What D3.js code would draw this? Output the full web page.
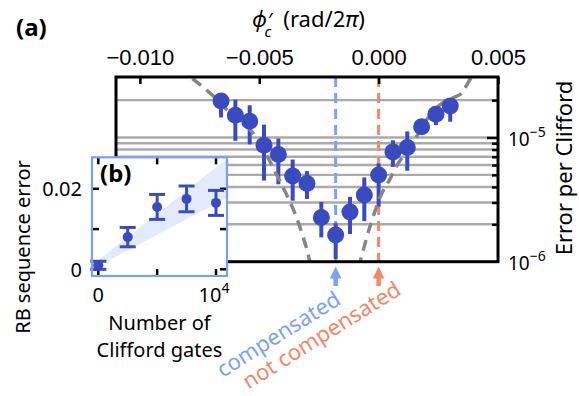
<!DOCTYPE html>
<html>
<head>
<meta charset="utf-8">
<script src="https://cdn.jsdelivr.net/npm/d3@7"></script>
<style>
  body { margin: 0; background: #fff; }
  svg { display: block; font-family: "Noto Sans", "Open Sans", sans-serif; }
</style>
</head>
<body>
<div id="chart"></div>
<script>
// (a) error per Clifford against phi_c'
const phiValues = [-0.0066, -0.006, -0.0054, -0.0048, -0.0042, -0.0036, -0.003, -0.0024, -0.0018,
  -0.0012, -0.0006, 0, 0.0006, 0.0012, 0.0018, 0.0024, 0.003];
const epcValues = [1.97e-5, 1.51e-5, 1.35e-5, 8.67e-6, 7.3e-6, 4.89e-6, 4.27e-6, 2.27e-6, 1.64e-6,
  2.51e-6, 3.44e-6, 4.98e-6, 7.66e-6, 8.31e-6, 1.22e-5, 1.54e-5, 1.79e-5];
const epcLow = [1.45e-5, 9.4e-6, 8.8e-6, 4.5e-6, 4.2e-6, 3.1e-6, 3.2e-6, 1.57e-6, 1.05e-6,
  1.67e-6, 2.12e-6, 2.77e-6, 5.8e-6, 5.4e-6, 1.08e-5, 1.26e-5, 1.34e-5];
const epcHigh = [2.26e-5, 2.02e-5, 1.82e-5, 1.27e-5, 9.8e-6, 6.65e-6, 5.36e-6, 3.03e-6, 2.04e-6,
  3.33e-6, 4.77e-6, 6.18e-6, 9.5e-6, 1.12e-5, 1.38e-5, 1.71e-5, 2.07e-5];

// dashed model curves
const leftCurvePhi = [-0.0078, -0.00696, -0.00626, -0.00556, -0.005, -0.00465, -0.00437, -0.00388, -0.00353, -0.00319, -0.0029, -0.00282];
const leftCurveEpc = [2.98e-5, 2.19e-5, 1.61e-5, 1.26e-5, 9.2e-6, 6.99e-6, 5.46e-6, 3.55e-6, 2.52e-6, 1.64e-6, 1.03e-6, 8.5e-7];
const rightCurvePhi = [-0.00085, -0.00074, -0.00053, -0.00032, -0.00011, 0.0001, 0.00045, 0.00073, 0.00101, 0.00136, 0.00171, 0.0022, 0.00267, 0.00317, 0.00351, 0.0038, 0.00405];
const rightCurveEpc = [8.9e-7, 1.06e-6, 1.49e-6, 2.04e-6, 2.69e-6, 3.44e-6, 4.54e-6, 5.81e-6, 6.99e-6, 8.67e-6, 1.11e-5, 1.56e-5, 1.89e-5, 2.11e-5, 2.31e-5, 2.88e-5, 3.35e-5];

const compensatedPhi = -0.0018;
const notCompensatedPhi = 0;

const phiTicks = [-0.01, -0.005, 0, 0.005];
const gridValues = [2e-6, 3e-6, 4e-6, 5e-6, 6e-6, 7e-6, 8e-6, 9e-6, 1e-5, 2e-5];
const decadeTicks = [{ v: 1e-5, exp: "\u22125" }, { v: 1e-6, exp: "\u22126" }];

// (b) RB sequence error against number of Clifford gates
const gateCounts = [0, 2500, 5000, 7500, 10000];
const seqError = [0.001, 0.008, 0.0155, 0.0175, 0.0165];
const seqErrorBar = [0.001, 0.0024, 0.0031, 0.0032, 0.0031];
const bandGates = [-600, 10935];
const bandLow = [-0.0001, 0.0178];
const bandHigh = [0.0009, 0.0275];
const gateTicks = [0, 5000, 10000];
const seqTicks = [0, 0.01, 0.02];

const dark = "#3a4bc0";
const lightBlue = "#7ba2f5";
const orange = "#f2876b";
const grid = "#aaaaaa";

const width = 579, height = 396;
const svg = d3.select("#chart").append("svg")
  .attr("width", width).attr("height", height);

const plot = { left: 116, top: 77, right: 498, bottom: 261.7 };
const x = d3.scaleLinear().domain([-0.011, 0.005]).range([plot.left, plot.right]);
const y = d3.scaleLog().domain([1e-6, 3.07e-5]).range([plot.bottom, plot.top]);

svg.append("clipPath").attr("id", "plotClip")
  .append("rect")
  .attr("x", plot.left).attr("y", plot.top)
  .attr("width", plot.right - plot.left).attr("height", plot.bottom - plot.top);

// gridlines
svg.append("g").selectAll("line").data(gridValues).join("line")
  .attr("x1", plot.left).attr("x2", plot.right)
  .attr("y1", d => y(d)).attr("y2", d => y(d))
  .attr("stroke", grid).attr("stroke-width", 2.4);

// vertical markers
[[compensatedPhi, lightBlue], [notCompensatedPhi, orange]].forEach(([p, c]) => {
  svg.append("line")
    .attr("x1", x(p)).attr("x2", x(p))
    .attr("y1", plot.top).attr("y2", plot.bottom)
    .attr("stroke", c).attr("stroke-width", 3)
    .attr("stroke-dasharray", "10,6");
});

// error bars
const pts = phiValues.map((p, i) => ({ p, v: epcValues[i], lo: epcLow[i], hi: epcHigh[i] }));
svg.append("g").selectAll("line").data(pts).join("line")
  .attr("x1", d => x(d.p)).attr("x2", d => x(d.p))
  .attr("y1", d => y(d.lo)).attr("y2", d => y(d.hi))
  .attr("stroke", dark).attr("stroke-width", 4);

// model curves
const curveLine = d3.line().x(d => x(d[0])).y(d => y(d[1])).curve(d3.curveMonotoneX);
const curves = svg.append("g").attr("clip-path", "url(#plotClip)");
[[leftCurvePhi, leftCurveEpc], [rightCurvePhi, rightCurveEpc]].forEach(([ps, vs]) => {
  curves.append("path")
    .attr("d", curveLine(ps.map((p, i) => [p, vs[i]])))
    .attr("fill", "none").attr("stroke", "#868686")
    .attr("stroke-width", 3.5).attr("stroke-dasharray", "11,7");
});

// markers
svg.append("g").selectAll("circle").data(pts).join("circle")
  .attr("cx", d => x(d.p)).attr("cy", d => y(d.v))
  .attr("r", 8.5).attr("fill", dark);

// top axis
const topAxis = svg.append("g").attr("transform", `translate(0,${plot.top})`)
  .call(d3.axisTop(x).tickValues(phiTicks).tickFormat(d3.format(".3f")).tickSize(0).tickPadding(12));
topAxis.select(".domain").remove();
topAxis.selectAll("text").attr("font-size", 22).attr("fill", "#000").attr("font-family", null);

const topTicks = svg.append("g").attr("transform", `translate(0,${plot.top})`)
  .call(d3.axisTop(x).tickValues(phiTicks).tickFormat("").tickSizeInner(-7).tickSizeOuter(0));
topTicks.select(".domain").remove();
topTicks.selectAll("line").attr("stroke-width", 2.5);

// right axis ticks
const rightTicks = svg.append("g").attr("transform", `translate(${plot.right},0)`)
  .call(d3.axisRight(y).tickValues(gridValues).tickFormat("").tickSizeInner(-6).tickSizeOuter(0));
rightTicks.select(".domain").remove();
rightTicks.selectAll("line").attr("stroke-width", 2.5)
  .attr("x2", d => d === 1e-5 ? -11 : -6);

svg.append("g").selectAll("text").data(decadeTicks).join("text")
  .attr("x", 508).attr("y", d => y(d.v) + 8)
  .attr("font-size", 19)
  .call(t => {
    t.append("tspan").text("10");
    t.append("tspan").attr("dy", -9).attr("font-size", 14).text(d => d.exp);
  });

svg.append("text")
  .attr("transform", "translate(572,168) rotate(-90)")
  .attr("text-anchor", "middle").attr("font-size", 22)
  .text("Error per Clifford");

// frame
svg.append("rect")
  .attr("x", plot.left).attr("y", plot.top)
  .attr("width", plot.right - plot.left).attr("height", plot.bottom - plot.top)
  .attr("fill", "none").attr("stroke", "#000").attr("stroke-width", 3);

// axis title: phi'_c (rad/2pi)
svg.append("text").attr("x", 252).attr("y", 27).attr("font-size", 22)
  .call(t => {
    t.append("tspan").attr("font-style", "italic").text("\u03d5");
    t.append("tspan").attr("dx", 1).attr("font-size", 20).text("\u2032");
    t.append("tspan").attr("dx", -8).attr("dy", 10).attr("font-size", 15).attr("font-style", "italic").text("c");
    t.append("tspan").attr("dx", 12).attr("dy", -10).text("(rad/2");
    t.append("tspan").attr("font-style", "italic").text("\u03c0");
    t.append("tspan").text(")");
  });

svg.append("text").attr("x", 16).attr("y", 36)
  .attr("font-size", 24).attr("font-weight", "bold").text("(a)");

// arrows and rotated notes
[[compensatedPhi, lightBlue], [notCompensatedPhi, orange]].forEach(([p, c]) => {
  const cx = x(p);
  svg.append("path")
    .attr("d", `M${cx - 5.8},278.5 L${cx},266.5 L${cx + 5.8},278.5 Z`)
    .attr("fill", c);
  svg.append("line")
    .attr("x1", cx).attr("x2", cx).attr("y1", 276).attr("y2", 286)
    .attr("stroke", c).attr("stroke-width", 4.5);
});

svg.append("text")
  .attr("transform", "translate(279,335) rotate(-32)")
  .attr("text-anchor", "middle").attr("dy", "0.3em")
  .attr("font-size", 22).attr("fill", lightBlue)
  .text("compensated");
svg.append("text")
  .attr("transform", "translate(322,336) rotate(-32)")
  .attr("text-anchor", "middle").attr("dy", "0.3em")
  .attr("font-size", 22).attr("fill", orange)
  .text("not compensated");

// inset (b)
const inset = { left: 92, top: 157.3, right: 227, bottom: 276 };
const ix = d3.scaleLinear().domain([-535, 10935]).range([inset.left, inset.right]);
const iy = d3.scaleLinear().domain([-0.00166, 0.02783]).range([inset.bottom, inset.top]);

const ig = svg.append("g");
ig.append("clipPath").attr("id", "insetClip")
  .append("rect")
  .attr("x", inset.left).attr("y", inset.top)
  .attr("width", inset.right - inset.left).attr("height", inset.bottom - inset.top);

ig.append("rect")
  .attr("x", inset.left).attr("y", inset.top)
  .attr("width", inset.right - inset.left).attr("height", inset.bottom - inset.top)
  .attr("fill", "#fff");

const band = d3.area().x(d => ix(d.n)).y0(d => iy(d.lo)).y1(d => iy(d.hi));
ig.append("path")
  .attr("clip-path", "url(#insetClip)")
  .attr("d", band(bandGates.map((n, i) => ({ n, lo: bandLow[i], hi: bandHigh[i] }))))
  .attr("fill", "#e2eafb");

// inset ticks, all four sides pointing in
const tickStyle = sel => sel.attr("stroke", "#000").attr("stroke-width", 2.5);
ig.append("g").selectAll("line").data(gateTicks).join("line")
  .attr("x1", d => ix(d)).attr("x2", d => ix(d))
  .attr("y1", inset.bottom).attr("y2", inset.bottom - 7).call(tickStyle);
ig.append("g").selectAll("line").data(gateTicks).join("line")
  .attr("x1", d => ix(d)).attr("x2", d => ix(d))
  .attr("y1", inset.top).attr("y2", inset.top + 7).call(tickStyle);
ig.append("g").selectAll("line").data(seqTicks).join("line")
  .attr("x1", inset.left).attr("x2", inset.left + 7)
  .attr("y1", d => iy(d)).attr("y2", d => iy(d)).call(tickStyle);
ig.append("g").selectAll("line").data(seqTicks).join("line")
  .attr("x1", inset.right).attr("x2", inset.right - 7)
  .attr("y1", d => iy(d)).attr("y2", d => iy(d)).call(tickStyle);

const ipts = gateCounts.map((n, i) => ({ n, v: seqError[i], e: seqErrorBar[i] }));
const bars = ig.append("g").attr("stroke", dark).attr("stroke-width", 3);
bars.selectAll(".stem").data(ipts).join("line").attr("class", "stem")
  .attr("x1", d => ix(d.n)).attr("x2", d => ix(d.n))
  .attr("y1", d => iy(d.v - d.e)).attr("y2", d => iy(d.v + d.e));
bars.selectAll(".capLo").data(ipts).join("line").attr("class", "capLo")
  .attr("x1", d => ix(d.n) - 8).attr("x2", d => ix(d.n) + 8)
  .attr("y1", d => iy(d.v - d.e)).attr("y2", d => iy(d.v - d.e));
bars.selectAll(".capHi").data(ipts).join("line").attr("class", "capHi")
  .attr("x1", d => ix(d.n) - 8).attr("x2", d => ix(d.n) + 8)
  .attr("y1", d => iy(d.v + d.e)).attr("y2", d => iy(d.v + d.e));
ig.append("g").selectAll("circle").data(ipts).join("circle")
  .attr("cx", d => ix(d.n)).attr("cy", d => iy(d.v))
  .attr("r", 5).attr("fill", dark);

ig.append("rect")
  .attr("x", inset.left).attr("y", inset.top)
  .attr("width", inset.right - inset.left).attr("height", inset.bottom - inset.top)
  .attr("fill", "none").attr("stroke", "#7b9ff0").attr("stroke-width", 2.2);

ig.append("text").attr("x", 100).attr("y", 182)
  .attr("font-size", 24).attr("font-weight", "bold").text("(b)");

// inset tick labels
ig.append("text").attr("x", 82).attr("y", iy(0.02) + 7.5)
  .attr("text-anchor", "end").attr("font-size", 20).text("0.02");
ig.append("text").attr("x", 82).attr("y", iy(0) + 7.5)
  .attr("text-anchor", "end").attr("font-size", 20).text("0");
ig.append("text").attr("x", ix(0)).attr("y", 302)
  .attr("text-anchor", "middle").attr("font-size", 20).text("0");
ig.append("text").attr("x", ix(10000) - 2).attr("y", 302)
  .attr("text-anchor", "middle").attr("font-size", 20)
  .call(t => {
    t.append("tspan").text("10");
    t.append("tspan").attr("dy", -9).attr("font-size", 14).text("4");
  });

ig.append("text").attr("x", 159.5).attr("y", 330)
  .attr("text-anchor", "middle").attr("font-size", 20).text("Number of");
ig.append("text").attr("x", 159.5).attr("y", 357)
  .attr("text-anchor", "middle").attr("font-size", 20).text("Clifford gates");
ig.append("text")
  .attr("transform", "translate(29.5,247) rotate(-90)")
  .attr("text-anchor", "middle").attr("font-size", 20)
  .text("RB sequence error");
</script>
</body>
</html>
